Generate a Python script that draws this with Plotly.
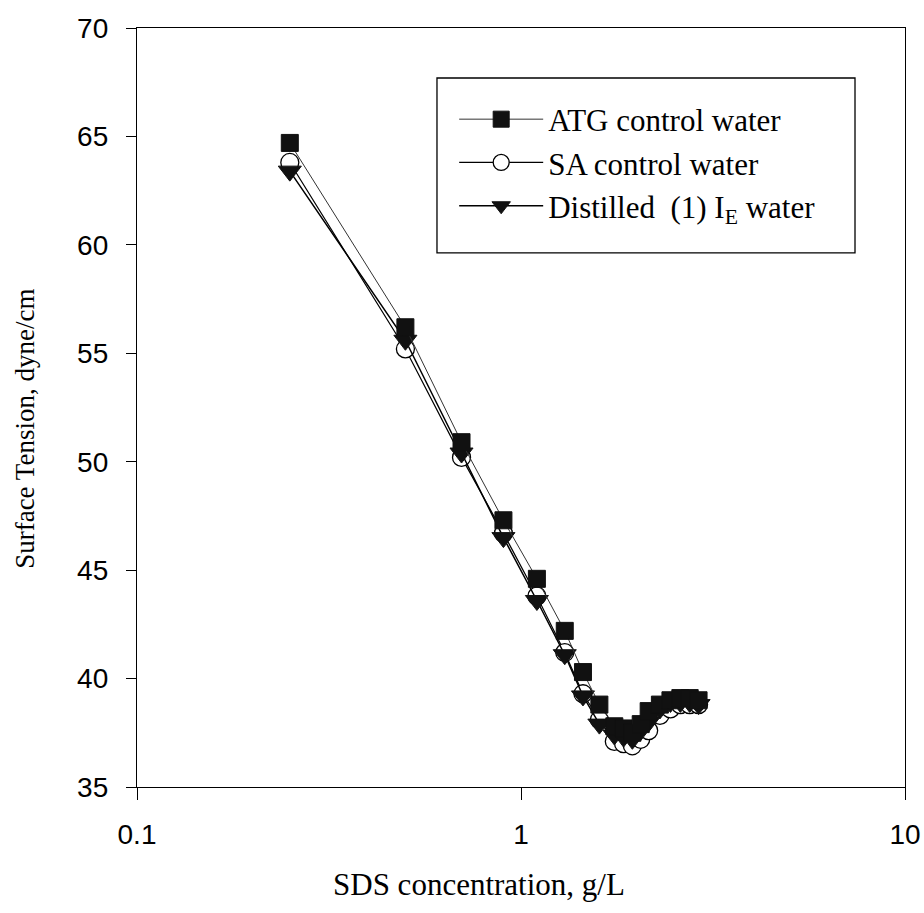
import plotly.graph_objects as go

# SDS concentration (g/L)
conc = [0.25, 0.5, 0.7, 0.9, 1.1, 1.3, 1.45, 1.6, 1.75, 1.85, 1.95, 2.05, 2.15, 2.3, 2.45, 2.6, 2.75, 2.9]

# Surface tension (dyne/cm)
atg = [64.7, 56.2, 50.9, 47.3, 44.6, 42.2, 40.3, 38.8, 37.8, 37.7, 37.5, 37.9, 38.5, 38.8, 39.0, 39.1, 39.1, 39.0]
sa = [63.8, 55.2, 50.2, 46.7, 43.8, 41.2, 39.3, 38.1, 37.1, 37.0, 36.9, 37.2, 37.6, 38.3, 38.6, 38.8, 38.8, 38.8]
distilled = [63.4, 55.6, 50.4, 46.5, 43.6, 41.1, 39.2, 37.9, 37.4, 37.3, 37.2, 37.6, 38.0, 38.6, 38.9, 38.9, 38.9, 38.8]

names = ["ATG control water", "SA control water", "Distilled  (1) I<sub>E</sub> water"]

y_ticks = [35, 40, 45, 50, 55, 60, 65, 70]
x_ticks = [0.1, 1, 10]
x_ticklabels = ["0.1", "1", "10"]

x_title = "SDS concentration, g/L"
y_title = "Surface Tension, dyne/cm"

SERIF = "Liberation Serif, Times New Roman, serif"
SANS = "Liberation Sans, Arial, sans-serif"

fig = go.Figure()

fig.add_trace(go.Scatter(
    x=conc, y=sa, name=names[1], mode="lines+markers", legendrank=2,
    line=dict(color="black", width=1.2),
    marker=dict(symbol="circle", size=18, color="white", line=dict(color="black", width=1.3)),
))
fig.add_trace(go.Scatter(
    x=conc, y=distilled, name=names[2], mode="lines+markers", legendrank=3,
    line=dict(color="black", width=1.5),
    marker=dict(symbol="triangle-down", size=20, color="#111111", line=dict(color="#111111", width=1)),
))
fig.add_trace(go.Scatter(
    x=conc, y=atg, name=names[0], mode="lines+markers", legendrank=1,
    line=dict(color="#333333", width=1),
    marker=dict(symbol="square", size=17, color="#111111", line=dict(color="#111111", width=1)),
))

axis_common = dict(
    showgrid=False, zeroline=False, showline=True, linecolor="black", linewidth=1.3,
    mirror=True, ticks="outside", tickcolor="black", tickwidth=1.3,
)

fig.update_layout(
    width=924, height=913,
    paper_bgcolor="white", plot_bgcolor="white",
    margin=dict(l=137, r=19, t=28, b=126, autoexpand=False),
    font=dict(family=SANS, color="black"),
    xaxis=dict(
        type="log", range=[-1, 1], tickvals=x_ticks, ticktext=x_ticklabels,
        ticklen=12, ticklabelstandoff=10,
        tickfont=dict(size=28, family=SANS),
        **axis_common,
    ),
    yaxis=dict(
        range=[35, 70], tickvals=y_ticks,
        ticklen=10, ticklabelstandoff=12,
        tickfont=dict(size=28, family=SANS),
        **axis_common,
    ),
    legend=dict(
        x=0.413, y=0.915, xanchor="left", yanchor="top",
        borderwidth=0, bgcolor="rgba(0,0,0,0)",
        font=dict(size=31, family=SERIF),
        itemwidth=84, tracegroupgap=0,
    ),
    showlegend=True,
    shapes=[dict(
        type="rect", xref="paper", yref="paper",
        x0=0.3906, x1=0.9349, y0=0.7036, y1=0.9341,
        line=dict(color="black", width=1.3), fillcolor="rgba(0,0,0,0)", layer="below",
    )],
    annotations=[
        dict(text=x_title, xref="paper", yref="paper", x=0.445, y=-0.129,
             xanchor="center", yanchor="middle", showarrow=False,
             font=dict(size=31, family=SERIF)),
        dict(text=y_title, xref="paper", yref="paper", x=-0.146, y=0.4717,
             xanchor="center", yanchor="middle", showarrow=False, textangle=-90,
             font=dict(size=27, family=SERIF)),
    ],
)

fig.write_html(
    "out.html",
    config={"displayModeBar": False},
    post_script="document.body.style.margin='0';document.body.style.overflow='hidden';",
)
